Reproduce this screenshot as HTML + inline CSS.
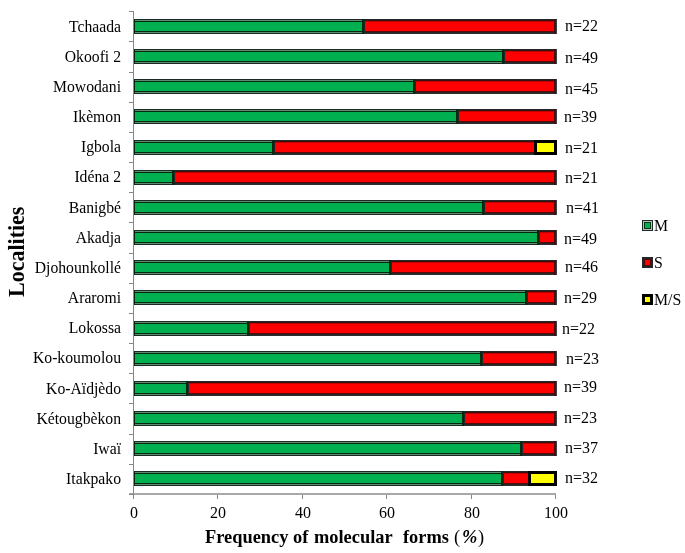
<!DOCTYPE html>
<html><head><meta charset="utf-8"><style>
html,body{margin:0;padding:0;background:#fff;}
body{width:685px;height:553px;position:relative;overflow:hidden;font-family:"Liberation Serif",serif;color:#000;}
.a{position:absolute;}
.ax{position:absolute;background:#878787;}
.t{position:absolute;white-space:nowrap;will-change:transform;}
.cl{position:absolute;white-space:nowrap;text-align:right;width:120px;left:0.5px;will-change:transform;}
.g{position:absolute;background:#00b050;box-shadow:inset -1px 0 0 #1c2a28,inset -3px 0 0 #06280f,inset 3px 0 0 #06280f,inset 0 1px 0 #1b2b22,inset 0 -1px 0 #1b2b22,inset 0 2px 0 #5e8c72,inset 0 -2px 0 #5e8c72,inset 0 3px 0 #06280f,inset 0 -3px 0 #06280f;}
.r{position:absolute;background:linear-gradient(to bottom,#262626 0 1px,#3a1010 1px 2px,#c00000 2px 3px,#ff0000 3px 12px,#5a0808 12px 13px,#262626 13px 14px,#2e2e2e 14px 15px);box-shadow:inset -1px 0 0 #3c4048,inset -2px 0 0 #222,inset -3px 0 0 #4d0a0a,inset 1px 0 0 #282828,inset 2px 0 0 #4d0a0a;}
.y{position:absolute;background:#ffff00;box-shadow:inset 0 0 0 3px #000;}
</style></head><body>

<div class="ax" style="left:129px;top:493px;width:427px;height:2px;background:#a9a9a9"></div>
<div class="ax" style="left:129px;top:11px;width:4px;height:1px"></div>
<div class="ax" style="left:129px;top:41px;width:4px;height:1px"></div>
<div class="ax" style="left:129px;top:72px;width:4px;height:1px"></div>
<div class="ax" style="left:129px;top:102px;width:4px;height:1px"></div>
<div class="ax" style="left:129px;top:132px;width:4px;height:1px"></div>
<div class="ax" style="left:129px;top:162px;width:4px;height:1px"></div>
<div class="ax" style="left:129px;top:192px;width:4px;height:1px"></div>
<div class="ax" style="left:129px;top:222px;width:4px;height:1px"></div>
<div class="ax" style="left:129px;top:253px;width:4px;height:1px"></div>
<div class="ax" style="left:129px;top:283px;width:4px;height:1px"></div>
<div class="ax" style="left:129px;top:313px;width:4px;height:1px"></div>
<div class="ax" style="left:129px;top:343px;width:4px;height:1px"></div>
<div class="ax" style="left:129px;top:373px;width:4px;height:1px"></div>
<div class="ax" style="left:129px;top:403px;width:4px;height:1px"></div>
<div class="ax" style="left:129px;top:434px;width:4px;height:1px"></div>
<div class="ax" style="left:129px;top:464px;width:4px;height:1px"></div>
<div class="ax" style="left:129px;top:494px;width:4px;height:1px"></div>
<div class="ax" style="left:133px;top:495px;width:1px;height:4px"></div>
<div class="t" style="left:93.5px;width:80px;text-align:center;top:504.60px;font-size:16px;line-height:16px">0</div>
<div class="ax" style="left:217px;top:495px;width:1px;height:4px"></div>
<div class="t" style="left:177.5px;width:80px;text-align:center;top:504.60px;font-size:16px;line-height:16px">20</div>
<div class="ax" style="left:302px;top:495px;width:1px;height:4px"></div>
<div class="t" style="left:262.5px;width:80px;text-align:center;top:504.60px;font-size:16px;line-height:16px">40</div>
<div class="ax" style="left:386px;top:495px;width:1px;height:4px"></div>
<div class="t" style="left:346.5px;width:80px;text-align:center;top:504.60px;font-size:16px;line-height:16px">60</div>
<div class="ax" style="left:471px;top:495px;width:1px;height:4px"></div>
<div class="t" style="left:431.5px;width:80px;text-align:center;top:504.60px;font-size:16px;line-height:16px">80</div>
<div class="ax" style="left:555px;top:495px;width:1px;height:4px"></div>
<div class="t" style="left:515.5px;width:80px;text-align:center;top:504.60px;font-size:16px;line-height:16px">100</div>
<div class="a" style="left:0;top:0;width:685px;height:553px;clip-path:inset(0 0 0 133px)">
<div class="r" style="left:363px;top:19px;width:194px;height:15px"></div>
<div class="g" style="left:132px;top:19px;width:233px;height:15px"></div>
<div class="r" style="left:503px;top:49px;width:54px;height:15px"></div>
<div class="g" style="left:132px;top:49px;width:373px;height:15px"></div>
<div class="r" style="left:414px;top:79px;width:143px;height:15px"></div>
<div class="g" style="left:132px;top:79px;width:284px;height:15px"></div>
<div class="r" style="left:457px;top:109px;width:100px;height:15px"></div>
<div class="g" style="left:132px;top:109px;width:327px;height:15px"></div>
<div class="r" style="left:273px;top:140px;width:264px;height:15px"></div>
<div class="g" style="left:132px;top:140px;width:143px;height:15px"></div>
<div class="y" style="left:534px;top:140px;width:23px;height:15px"></div>
<div class="r" style="left:173px;top:170px;width:384px;height:15px"></div>
<div class="g" style="left:132px;top:170px;width:43px;height:15px"></div>
<div class="r" style="left:483px;top:200px;width:74px;height:15px"></div>
<div class="g" style="left:132px;top:200px;width:353px;height:15px"></div>
<div class="r" style="left:538px;top:230px;width:19px;height:15px"></div>
<div class="g" style="left:132px;top:230px;width:408px;height:15px"></div>
<div class="r" style="left:390px;top:260px;width:167px;height:15px"></div>
<div class="g" style="left:132px;top:260px;width:260px;height:15px"></div>
<div class="r" style="left:526px;top:290px;width:31px;height:15px"></div>
<div class="g" style="left:132px;top:290px;width:396px;height:15px"></div>
<div class="r" style="left:248px;top:321px;width:309px;height:15px"></div>
<div class="g" style="left:132px;top:321px;width:118px;height:15px"></div>
<div class="r" style="left:481px;top:351px;width:76px;height:15px"></div>
<div class="g" style="left:132px;top:351px;width:351px;height:15px"></div>
<div class="r" style="left:187px;top:381px;width:370px;height:15px"></div>
<div class="g" style="left:132px;top:381px;width:57px;height:15px"></div>
<div class="r" style="left:463px;top:411px;width:94px;height:15px"></div>
<div class="g" style="left:132px;top:411px;width:333px;height:15px"></div>
<div class="r" style="left:521px;top:441px;width:36px;height:15px"></div>
<div class="g" style="left:132px;top:441px;width:391px;height:15px"></div>
<div class="r" style="left:502px;top:471px;width:29px;height:15px"></div>
<div class="g" style="left:132px;top:471px;width:372px;height:15px"></div>
<div class="y" style="left:528px;top:471px;width:29px;height:15px"></div>
</div>
<div class="cl" style="top:18.64px;font-size:15.7px;line-height:15.7px">Tchaada</div>
<div class="t" style="left:564.8px;top:17.50px;font-size:16px;line-height:16px">n=22</div>
<div class="cl" style="top:48.80px;font-size:15.7px;line-height:15.7px">Okoofi 2</div>
<div class="t" style="left:564.8px;top:49.50px;font-size:16px;line-height:16px">n=49</div>
<div class="cl" style="top:78.97px;font-size:15.7px;line-height:15.7px">Mowodani</div>
<div class="t" style="left:564.6px;top:81.00px;font-size:16px;line-height:16px">n=45</div>
<div class="cl" style="top:109.14px;font-size:15.7px;line-height:15.7px">Ikèmon</div>
<div class="t" style="left:564.4px;top:109.40px;font-size:16px;line-height:16px">n=39</div>
<div class="cl" style="top:139.31px;font-size:15.7px;line-height:15.7px">Igbola</div>
<div class="t" style="left:565.2px;top:139.60px;font-size:16px;line-height:16px">n=21</div>
<div class="cl" style="top:169.48px;font-size:15.7px;line-height:15.7px">Idéna 2</div>
<div class="t" style="left:564.9px;top:169.60px;font-size:16px;line-height:16px">n=21</div>
<div class="cl" style="top:199.65px;font-size:15.7px;line-height:15.7px">Banigbé</div>
<div class="t" style="left:566.3px;top:200.20px;font-size:16px;line-height:16px">n=41</div>
<div class="cl" style="top:229.82px;font-size:15.7px;line-height:15.7px">Akadja</div>
<div class="t" style="left:564.4px;top:230.80px;font-size:16px;line-height:16px">n=49</div>
<div class="cl" style="top:259.99px;font-size:15.7px;line-height:15.7px">Djohounkollé</div>
<div class="t" style="left:565.1px;top:258.50px;font-size:16px;line-height:16px">n=46</div>
<div class="cl" style="top:290.15px;font-size:15.7px;line-height:15.7px">Araromi</div>
<div class="t" style="left:563.8px;top:290.30px;font-size:16px;line-height:16px">n=29</div>
<div class="cl" style="top:320.32px;font-size:15.7px;line-height:15.7px">Lokossa</div>
<div class="t" style="left:562.1px;top:320.70px;font-size:16px;line-height:16px">n=22</div>
<div class="cl" style="top:350.49px;font-size:15.7px;line-height:15.7px">Ko-koumolou</div>
<div class="t" style="left:565.7px;top:350.80px;font-size:16px;line-height:16px">n=23</div>
<div class="cl" style="top:380.66px;font-size:15.7px;line-height:15.7px">Ko-Aïdjèdo</div>
<div class="t" style="left:564.2px;top:379.10px;font-size:16px;line-height:16px">n=39</div>
<div class="cl" style="top:410.83px;font-size:15.7px;line-height:15.7px">Kétougbèkon</div>
<div class="t" style="left:563.5px;top:409.90px;font-size:16px;line-height:16px">n=23</div>
<div class="cl" style="top:441.00px;font-size:15.7px;line-height:15.7px">Iwaï</div>
<div class="t" style="left:564.6px;top:440.40px;font-size:16px;line-height:16px">n=37</div>
<div class="cl" style="top:471.17px;font-size:15.7px;line-height:15.7px">Itakpako</div>
<div class="t" style="left:564.6px;top:470.40px;font-size:16px;line-height:16px">n=32</div>
<div class="ax" style="left:133px;top:11px;width:1px;height:488px"></div>
<div class="a" style="left:642px;top:220px;width:11px;height:11px;background:#00b050;box-shadow:inset 0 0 0 1px #1b2b22,inset 0 0 0 2px #b4c4ba,inset 0 0 0 3px #053515;"></div>
<div class="a" style="left:642px;top:257px;width:11px;height:11px;background:#ff0000;box-shadow:inset 0 0 0 2px #262626,inset 0 0 0 3px #4d0a0a;"></div>
<div class="a" style="left:642px;top:294px;width:11px;height:11px;background:#ffff00;box-shadow:inset 0 0 0 3px #000;"></div>
<div class="t" style="left:654.4px;top:217.57px;font-size:15.8px;line-height:15.8px">M</div>
<div class="t" style="left:654.3px;top:254.57px;font-size:15.8px;line-height:15.8px">S</div>
<div class="t" style="left:654.0px;top:291.67px;font-size:15.8px;line-height:15.8px">M/S</div>
<div class="t" style="left:204.9px;top:527.59px;font-size:18.4px;line-height:18.4px;font-weight:bold;font-style:normal">Frequency</div>
<div class="t" style="left:293.1px;top:527.59px;font-size:18.4px;line-height:18.4px;font-weight:bold;font-style:normal">of</div>
<div class="t" style="left:314.2px;top:527.59px;font-size:18.4px;line-height:18.4px;font-weight:bold;font-style:normal">molecular</div>
<div class="t" style="left:403.1px;top:527.59px;font-size:18.4px;line-height:18.4px;font-weight:bold;font-style:normal">forms</div>
<div class="t" style="left:454.4px;top:527.59px;font-size:18.4px;line-height:18.4px;font-weight:normal;font-style:normal">(</div>
<div class="t" style="left:462.0px;top:527.59px;font-size:18.4px;line-height:18.4px;font-weight:bold;font-style:italic">%</div>
<div class="t" style="left:478.1px;top:527.59px;font-size:18.4px;line-height:18.4px;font-weight:normal;font-style:normal">)</div>
<div class="t" style="left:25px;top:296.6px;font-size:22px;line-height:22px;font-weight:bold;transform-origin:0 0;transform:rotate(-90deg) translate(0,-19.9px) scale(1,1.07)">Localities</div>
</body></html>
